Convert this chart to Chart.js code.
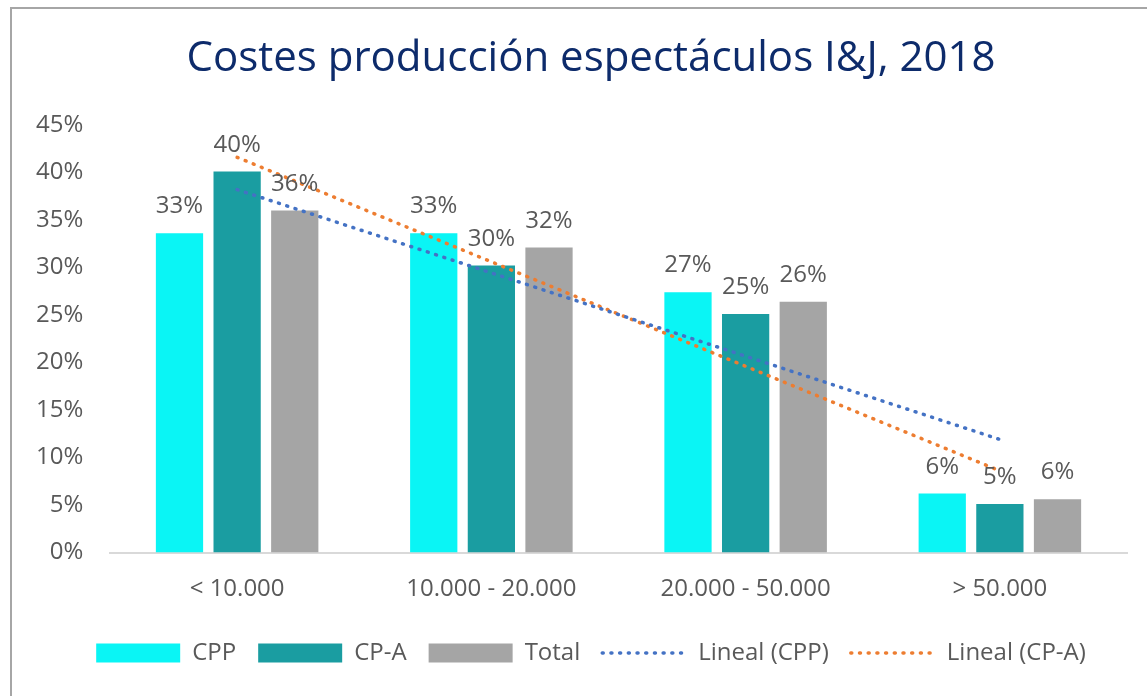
<!DOCTYPE html>
<html>
<head>
<meta charset="utf-8">
<script src="https://cdn.jsdelivr.net/npm/chart.js@4"></script>
<style>
  body { margin: 0; background: #fff; overflow: hidden; }
  #wrap { position: relative; width: 1147px; height: 696px; overflow: hidden; }
  #frame { position: absolute; left: 10px; top: 7px; width: 1200px; height: 800px;
           border-top: 2px solid #a6a6a6; border-left: 2px solid #a6a6a6; pointer-events: none; }
  canvas { position: absolute; left: 0; top: 0; }
</style>
</head>
<body>
<div id="wrap">
  <canvas id="myChart" width="1170" height="696"></canvas>
  <div id="frame"></div>
</div>
<script>
const categories = ['< 10.000', '10.000 - 20.000', '20.000 - 50.000', '> 50.000'];
const cppValues = [33.6, 33.6, 27.4, 6.2];
const cpaValues = [40.1, 30.2, 25.1, 5.1];
const totalValues = [36.0, 32.1, 26.4, 5.6];
// tendencias: solo extremos, la línea los une
const trendCpp = [38.2, null, null, 11.9];
const trendCpa = [41.6, null, null, 8.6];
const labelValues = {
    0: ['33%', '33%', '27%', '6%'],
    1: ['40%', '30%', '25%', '5%'],
    2: ['36%', '32%', '26%', '6%']
};

const fontFamily = "'Open Sans', 'Noto Sans', sans-serif";
const textColor = '#595959';
const dots = [1, 7.7];

// etiquetas encima de las barras
const barLabels = {
    id: 'barLabels',
    afterDatasetsDraw(chart) {
        const ctx = chart.ctx;
        ctx.save();
        ctx.font = '24px ' + fontFamily;
        ctx.fillStyle = textColor;
        ctx.textAlign = 'center';
        ctx.textBaseline = 'alphabetic';
        Object.keys(labelValues).forEach(i => {
            const meta = chart.getDatasetMeta(Number(i));
            meta.data.forEach((bar, j) => {
                ctx.fillText(labelValues[i][j], bar.x, bar.y - 20);
            });
        });
        ctx.restore();
    }
};

const ctx = document.getElementById('myChart');
new Chart(ctx, {
    type: 'bar',
    data: {
        labels: categories,
        datasets: [
            { label: 'CPP', data: cppValues, backgroundColor: '#0af5f5' },
            { label: 'CP-A', data: cpaValues, backgroundColor: '#1a9da1' },
            { label: 'Total', data: totalValues, backgroundColor: '#a5a5a5' },
            {
                type: 'line', label: 'Lineal (CPP)', data: trendCpp, spanGaps: true,
                borderColor: '#4472c4', borderWidth: 3.5, borderDash: dots, borderCapStyle: 'round',
                pointRadius: 0, order: -1
            },
            {
                type: 'line', label: 'Lineal (CP-A)', data: trendCpa, spanGaps: true,
                borderColor: '#ed7d31', borderWidth: 3.5, borderDash: dots, borderCapStyle: 'round',
                pointRadius: 0, order: -1
            }
        ]
    },
    options: {
        responsive: false,
        animation: false,
        layout: { padding: { left: 55, right: 43, top: 10, bottom: 21 } },
        datasets: {
            bar: { categoryPercentage: 0.68, barPercentage: 0.82 }
        },
        scales: {
            x: {
                grid: { display: false, drawTicks: false },
                border: { color: '#d9d9d9', width: 2 },
                ticks: { color: textColor, font: { family: fontFamily, size: 24 }, padding: 22 },
                afterFit(scale) { scale.height = 66.5; }
            },
            y: {
                min: 0, max: 45,
                grid: { display: false, drawTicks: false },
                border: { display: false },
                ticks: {
                    stepSize: 5, color: textColor,
                    // mirror para que no se recorten; alineado a la derecha en x≈83
                    mirror: true, crossAlign: 'far', padding: -74,
                    font: { family: fontFamily, size: 24 },
                    callback: v => v + '%'
                },
                afterFit(scale) { scale.width = 55; }
            }
        },
        plugins: {
            title: {
                display: true,
                text: 'Costes producción espectáculos I&J, 2018',
                color: '#0d2b6b',
                font: { family: fontFamily, size: 42, weight: 'normal' },
                padding: { top: 24, bottom: 40.6 }
            },
            legend: {
                position: 'bottom',
                labels: {
                    usePointStyle: true,
                    pointStyleWidth: 84,
                    boxHeight: 19,
                    padding: 22,
                    color: textColor,
                    font: { family: fontFamily, size: 24 },
                    sort: (a, b) => a.datasetIndex - b.datasetIndex,
                    generateLabels(chart) {
                        const items = Chart.defaults.plugins.legend.labels.generateLabels(chart);
                        items.forEach(it => {
                            const ds = chart.data.datasets[it.datasetIndex];
                            if (ds.type === 'line') {
                                it.pointStyle = 'line';
                                it.lineDash = dots;
                                it.lineCap = 'round';
                                it.lineWidth = 3.5;
                                it.strokeStyle = ds.borderColor;
                            } else {
                                it.pointStyle = 'rect';
                                it.lineWidth = 0;
                                it.fillStyle = ds.backgroundColor;
                            }
                        });
                        return items;
                    }
                }
            },
            tooltip: { enabled: false }
        }
    },
    plugins: [barLabels]
});
</script>
</body>
</html>
